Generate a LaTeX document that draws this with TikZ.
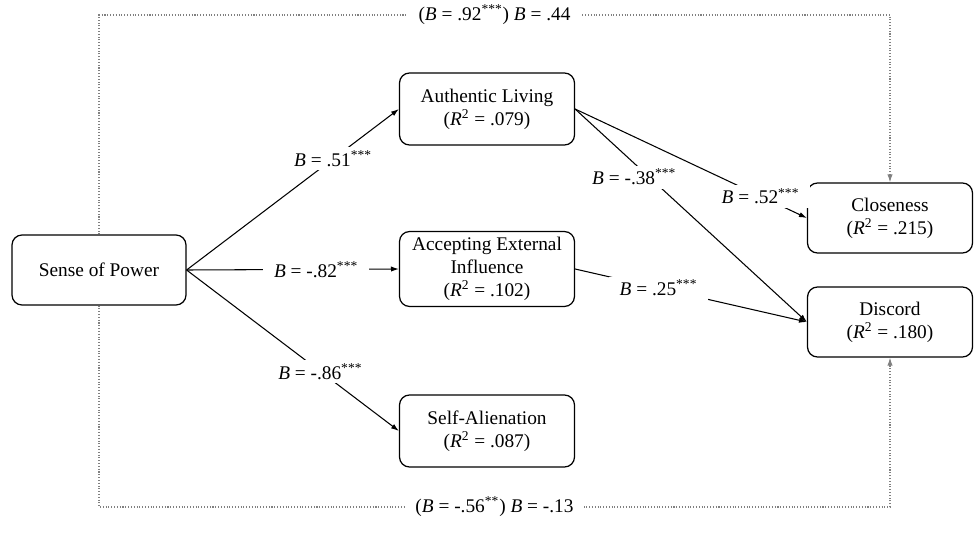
\documentclass[tikz,border=0pt]{standalone}
\usepackage{fontspec}
\setmainfont{Liberation Serif}
\usetikzlibrary{arrows.meta}

\begin{document}
\begin{tikzpicture}[x=0.02cm,y=-0.02cm]
\tikzset{boite/.style={draw, rounded corners=0.2cm, line width=0.7pt, align=center, minimum width=3.5cm, minimum height=1.44cm, font=\fontsize{11}{13}\selectfont},
fleche/.style={line width=0.6pt, -{Latex[length=4.5pt,width=3pt]}},
pointille/.style={gray, densely dotted, line width=0.6pt},
coef/.style={fill=white, inner xsep=6pt, inner ysep=2pt, font=\fontsize{11}{13}\selectfont}}
\useasboundingbox (0,0) rectangle (975,548);
\node[boite, minimum width=3.48cm, minimum height=1.4cm] (P) at (99,270) {Sense of Power};
\node[boite] (AL) at (487,109) {Authentic Living\\(\textit{R}\textsuperscript{2} = .079)};
\node[boite] (AEI) at (487,269) {Accepting External\\Influence\\(\textit{R}\textsuperscript{2} = .102)};
\node[boite] (SA) at (487,431) {Self-Alienation\\(\textit{R}\textsuperscript{2} = .087)};
\node[boite, minimum width=3.3cm, minimum height=1.4cm] (C) at (890,218) {Closeness\\(\textit{R}\textsuperscript{2} = .215)};
\node[boite, minimum width=3.3cm, minimum height=1.4cm] (D) at (890,322) {Discord\\(\textit{R}\textsuperscript{2} = .180)};
\draw[fleche] (P.east) -- node[coef, pos=0.69] {\textit{B} = .51\textsuperscript{***}} (AL.west);
\draw[fleche] (P.east) -- node[coef, pos=0.61] {\textit{B} = -.82\textsuperscript{***}} (AEI.west);
\draw[fleche] (P.east) -- node[coef, pos=0.63] {\textit{B} = -.86\textsuperscript{***}} (SA.west);
\draw[fleche] (AL.east) -- node[coef, pos=0.80] {\textit{B} = .52\textsuperscript{***}} (C.west);
\draw[fleche] (AL.east) -- node[coef, pos=0.32, xshift=-0.3cm] {\textit{B} = -.38\textsuperscript{***}} (D.west);
\draw[fleche] (AEI.east) -- node[coef, pos=0.36] {\textit{B} = .25\textsuperscript{***}} (D.west);
\draw[pointille, -{Latex[length=4.5pt,width=3pt]}] (P.north) -- (P.north |- 0,15) -- node[coef, text=black] {(\textit{B} = .92\textsuperscript{***}) \textit{B} = .44} (C.north |- 0,15) -- (C.north);
\draw[pointille, -{Latex[length=4.5pt,width=3pt]}] (P.south) -- (P.south |- 0,507) -- node[coef, text=black] {(\textit{B} = -.56\textsuperscript{**}) \textit{B} = -.13} (D.south |- 0,507) -- (D.south);
\end{tikzpicture}
\end{document}
